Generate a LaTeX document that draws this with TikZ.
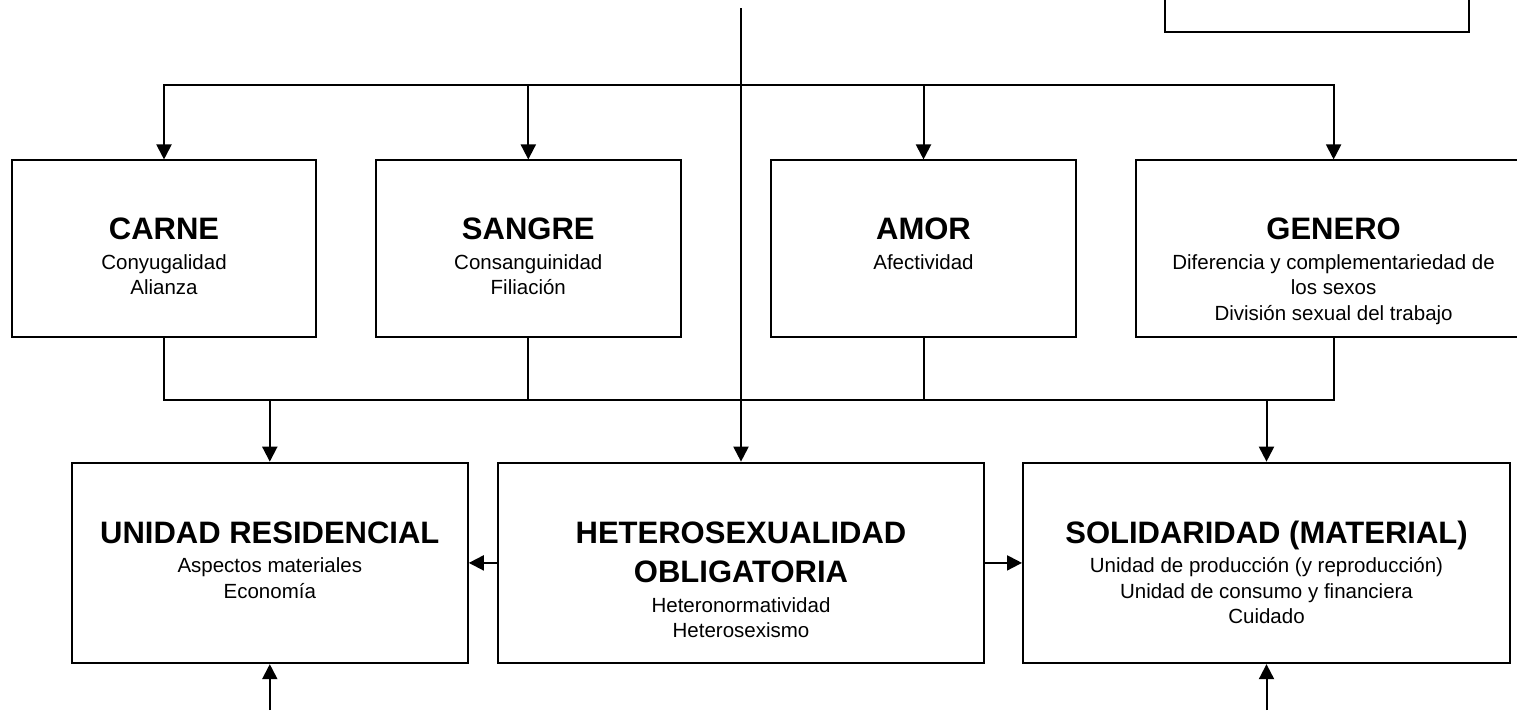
\documentclass[tikz,border=0pt]{standalone}
\usepackage{fontspec}
\setmainfont{Liberation Sans}
\usetikzlibrary{arrows.meta}

\newcommand{\boxtitle}[1]{{\fontsize{31}{39}\selectfont\bfseries #1}}
\newcommand{\titlestrut}{\rule{0pt}{25pt}}

\begin{document}
\begin{tikzpicture}[
        x=1pt, y=-1pt,
        box/.style={draw=black, line width=2pt, inner sep=0pt, minimum height=176.5pt},
        low_box/.style={box, minimum height=200.5pt},
        box_text/.style={anchor=north, align=center, inner sep=0pt, font=\fontsize{20.5}{25.5}\selectfont},
        edge/.style={line width=2pt, draw=black},
        arrow_edge/.style={edge, -{Triangle[width=15pt, length=15pt]}}
    ]

        \useasboundingbox (0,0) rectangle (1517,710);
        \clip (0,0) rectangle (1517,710);

        % top row
        \node[box, minimum width=304.5pt] (carne) at (164, 248.7) {};
        \node[box_text] at ([yshift=-55pt]carne.north) {\titlestrut\boxtitle{CARNE}\\[4pt] Conyugalidad\\ Alianza};

        \node[box, minimum width=304.5pt] (sangre) at (528.3, 248.7) {};
        \node[box_text] at ([yshift=-55pt]sangre.north) {\titlestrut\boxtitle{SANGRE}\\[4pt] Consanguinidad\\ Filiación};

        \node[box, minimum width=305pt] (amor) at (923.5, 248.7) {};
        \node[box_text] at ([yshift=-55pt]amor.north) {\titlestrut\boxtitle{AMOR}\\[4pt] Afectividad};

        \node[box, minimum width=396pt] (genero) at (1333.6, 248.7) {};
        \node[box_text] at ([yshift=-55pt]genero.north) {\titlestrut\boxtitle{GENERO}\\[4pt] Diferencia y complementariedad de\\ los sexos\\ División sexual del trabajo};

        % box cut by the top edge
        \node[box, minimum width=304.5pt, minimum height=120pt, anchor=south] (corner) at (1317, 33) {};

        % bottom row
        \node[low_box, minimum width=396pt] (unidad) at (269.8, 562.9) {};
        \node[box_text] at ([yshift=-56.5pt]unidad.north) {\titlestrut\boxtitle{UNIDAD RESIDENCIAL}\\[4pt] Aspectos materiales\\ Economía};

        \node[low_box, minimum width=486pt] (hetero) at (741, 562.9) {};
        \node[box_text] at ([yshift=-56.5pt]hetero.north) {\titlestrut\boxtitle{HETEROSEXUALIDAD}\\[14pt] \boxtitle{OBLIGATORIA}\\[4pt] Heteronormatividad\\ Heterosexismo};

        \node[low_box, minimum width=487pt] (solid) at (1266.5, 562.9) {};
        \node[box_text] at ([yshift=-56.5pt]solid.north) {\titlestrut\boxtitle{SOLIDARIDAD (MATERIAL)}\\[4pt] Unidad de producción (y reproducción)\\ Unidad de consumo y financiera\\ Cuidado};

        \coordinate (start) at (741, 8);
        \coordinate (upper_bus) at (741, 85);
        \coordinate (lower_bus) at (741, 400);
        \coordinate (unidad_in) at (269.8, 710);
        \coordinate (solid_in) at (1266.5, 710);

        \draw[arrow_edge] (start) -- (hetero.north);

        \draw[arrow_edge] (upper_bus) -| (carne.north);
        \draw[arrow_edge] (upper_bus) -| (sangre.north);
        \draw[arrow_edge] (upper_bus) -| (amor.north);
        \draw[arrow_edge] (upper_bus) -| (genero.north);

        \draw[edge] (carne.south) |- (lower_bus);
        \draw[edge] (sangre.south) |- (lower_bus);
        \draw[edge] (amor.south) |- (lower_bus);
        \draw[edge] (genero.south) |- (lower_bus);

        \draw[arrow_edge] (lower_bus) -| (unidad.north);
        \draw[arrow_edge] (lower_bus) -| (solid.north);

        \draw[arrow_edge] (hetero.west) -- (unidad.east);
        \draw[arrow_edge] (hetero.east) -- (solid.west);

        \draw[arrow_edge] (unidad_in) -- (unidad.south);
        \draw[arrow_edge] (solid_in) -- (solid.south);
    \end{tikzpicture}
\end{document}
